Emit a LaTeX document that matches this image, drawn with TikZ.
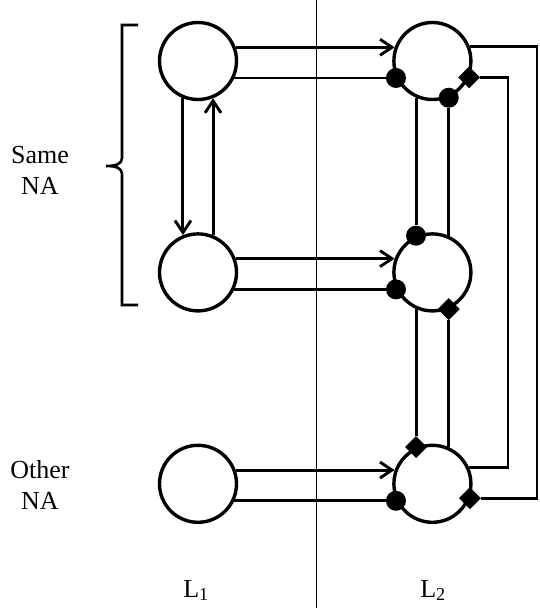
\documentclass[tikz,border=0pt]{standalone}
\usepackage{fontspec}
\setmainfont{Liberation Serif}
\usetikzlibrary{shapes,arrows}
\usetikzlibrary{positioning,arrows.meta,calc}
\tikzset{unit/.style={circle, draw, line width=3.4pt, minimum size=77pt, inner sep=0pt},
	wire/.style={line width=2.9pt}
}

\begin{document}
\begin{tikzpicture}[x=1pt,y=-1pt]
\tikzstyle{dot} = [circle, fill=black, minimum size=20pt, inner sep=0pt]
\tikzstyle{gate} = [diamond, fill=black, minimum size=22pt, inner sep=0pt]
\tikzstyle{feed} = [wire, -{Straight Barb[length=12pt,width=16pt]}]
\tikzstyle{tag} = [font=\fontsize{26}{31}\selectfont, align=center, inner sep=0pt]

\useasboundingbox (0,0) rectangle (540,608);

\node [unit] (l1) at (198,61) {};
\node [unit, below=131pt of l1] (l2) {};
\node [unit, below=131pt of l2] (l3) {};
\node [unit, right=154pt of l1] (r1) {};
\node [unit, right=154pt of l2] (r2) {};
\node [unit, right=154pt of l3] (r3) {};

% dots and gates on the L2 units
\node [dot] (a1) at (r1.205) {};
\node [dot] (b1) at (r1.-66) {};
\node [gate] (g1) at (r1.-24) {};
\node [dot] (c2) at (r2.114) {};
\node [dot] (a2) at (r2.205) {};
\node [gate] (g2) at (r2.-66) {};
\node [gate] (c3) at (r3.114) {};
\node [dot] (a3) at (r3.205) {};
\node [gate] (g3) at (r3.-21) {};

\node [tag] (same) at (40,170) {Same\\NA};
\node [tag] (other) at (40,485) {Other\\NA};
\node [tag, anchor=base] (n1) at (196,597) {L\textsubscript{1}};
\node [tag, anchor=base] (n2) at (433,597) {L\textsubscript{2}};

\coordinate (d1) at (316,0);
\coordinate (d2) at (316,608);
\coordinate (k1) at (508,0);
\coordinate (k2) at (537,0);

%Lines
\draw [line width=0.9pt] (d1) -- (d2);

\draw [feed] (l1.20) -- (r1.160);
\draw [wire] (l1.-25) -- (a1);
\draw [feed] (l2.20) -- (r2.160);
\draw [wire] (l2.-25) -- (a2);
\draw [feed] (l3.20) -- (r3.160);
\draw [wire] (l3.-25) -- (a3);

\draw [feed] (l1.-112) -- (l2.112);
\draw [feed] (l2.68) -- (l1.-68);

\draw [wire] (r1.-114) -- (c2);
\draw [wire] (b1) -- (r2.66);
\draw [wire] (r2.-114) -- (c3);
\draw [wire] (g2) -- (r3.66);

\draw [wire] (g1) -- (g1 -| k1) -- (r3.24 -| k1) -- (r3.24);
\draw [wire] (r1.21) -- (r1.21 -| k2) -- (g3 -| k2) -- (g3);

% bracket round the same NA
\draw [line width=2.6pt] (138,25) -- (122,25) -- (122,158)
	.. controls (122,164) and (116,166) .. (106,166)
	.. controls (116,166) and (122,168) .. (122,174) -- (122,305) -- (138,305);
\end{tikzpicture}
\end{document}
